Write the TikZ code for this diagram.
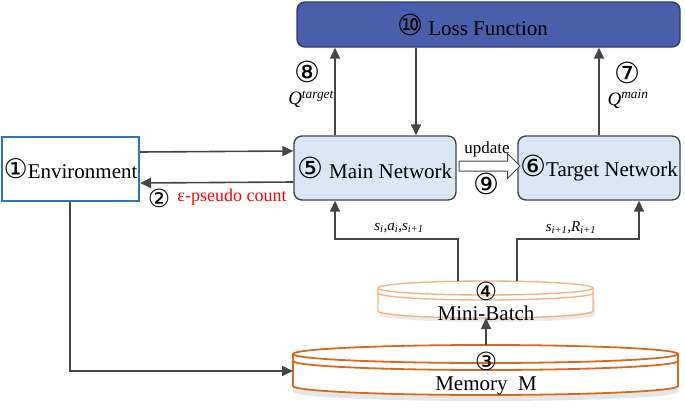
\documentclass[tikz,border=0pt]{standalone}
\usepackage{fontspec}
\setmainfont{Liberation Serif}
\newfontfamily\circfont{DejaVu Sans}
\usetikzlibrary{positioning,calc,arrows.meta,shapes.arrows}

\definecolor{lossblue}{HTML}{4A5FAB}
\definecolor{lossedge}{HTML}{2B3A78}
\definecolor{netfill}{HTML}{DCE6F2}
\definecolor{envblue}{HTML}{2E75B6}
\definecolor{memorange}{HTML}{D9691F}
\definecolor{batchorange}{HTML}{F4B183}
\definecolor{linegray}{HTML}{454545}

\newcommand{\cnum}[2][29]{{\circfont\fontsize{#1}{#1}\selectfont #2}}

\begin{document}
\begin{tikzpicture}[x=1pt,y=-1pt,>={Triangle[length=11pt,width=10pt]},line width=1.6pt,
    net node/.style={rectangle,rounded corners=8pt,draw=linegray,fill=netfill,line width=1.4pt,minimum width=162pt,minimum height=64pt,inner sep=1pt,font=\fontsize{21}{24}\selectfont},
    flow/.style={->,draw=linegray},
    small label/.style={font=\fontsize{17}{20}\selectfont},
    math label/.style={font=\fontsize{15}{18}\selectfont\itshape}]

    \useasboundingbox (0,0) rectangle (685,407);

    % boxes
    \node (loss) at (488.5,24.5) [rectangle,rounded corners=8pt,draw=lossedge,fill=lossblue,line width=1.4pt,minimum width=383pt,minimum height=45pt,inner sep=1pt,font=\fontsize{21}{24}\selectfont]{\hspace*{-32pt}\cnum{⑩} Loss Function};
    \node (main) at (375,168) [net node]{\cnum{⑤} Main Network};
    \node (target) at (599,168) [net node]{\cnum{⑥}Target Network};
    \node (env) at (70.5,169) [rectangle,draw=envblue,fill=white,line width=2pt,minimum width=137pt,minimum height=64pt,inner sep=1pt,font=\fontsize{21}{24}\selectfont]{\cnum[27]{①}Environment};

    % memory disk
    \fill[black!10] (293,375) -- (293,392) arc[start angle=180,end angle=0,x radius=192.5,y radius=9] -- (678,375);
    \filldraw[fill=white,draw=memorange,line width=1.8pt] (293,354) -- (293,386) arc[start angle=180,end angle=0,x radius=192.5,y radius=9] -- (678,354);
    \filldraw[fill=white,draw=memorange,line width=1.8pt] (485.5,354) ellipse[x radius=192.5,y radius=9];
    \draw[memorange,line width=1.8pt] (293,361) arc[start angle=180,end angle=0,x radius=192.5,y radius=9];

    % mini-batch disk
    \fill[black!8] (380,300) -- (380,315) arc[start angle=180,end angle=0,x radius=107.5,y radius=7] -- (595,300);
    \filldraw[fill=white,draw=batchorange,line width=1.4pt] (378,288) -- (378,311) arc[start angle=180,end angle=0,x radius=107.5,y radius=7] -- (593,288);
    \filldraw[fill=white,draw=batchorange,line width=1.4pt] (485.5,288) ellipse[x radius=107.5,y radius=7];
    \draw[batchorange,line width=1.4pt] (378,293) arc[start angle=180,end angle=0,x radius=107.5,y radius=7];

    \node (n4) at (486,291) {\cnum[25]{④}};
    \node (batch) at (486,313) [font=\fontsize{21}{24}\selectfont]{Mini-Batch};
    \node (n3) at (486,361) {\cnum[25]{③}};
    \node (memory) at (486,386) [font=\fontsize{21}{24}\selectfont]{Memory\ \ M};

    \coordinate (batchtop) at (486,318);
    \coordinate (memtop) at (486,345);
    \coordinate (batchl) at (458,281);
    \coordinate (batchr) at (517,281);
    \coordinate (memleft) at (293,371);

    % connectors
    \draw[flow] ([yshift=17pt]env.east) -- ([yshift=17pt]main.west);
    \draw[flow] ([yshift=-14pt]main.west) -- ([yshift=-14pt]env.east);
    \draw[flow] ([xshift=-40pt]main.north) -- ([xshift=-40pt]main.north |- loss.south);
    \draw[flow] ([xshift=41pt]main.north |- loss.south) -- ([xshift=41pt]main.north);
    \draw[flow,line width=1.8pt] (target.north) -- (target.north |- loss.south);
    \draw[flow] (batchl) -- (458,239) -| ([xshift=-40pt]main.south);
    \draw[flow] (batchr) -- (517,239) -| ([xshift=40pt]target.south);
    \draw[flow] (memtop) -- (batchtop);
    \draw[flow] (env.south -| 70,0) -- (70,371) -- (memleft);

    \node (upd) at ($(main.east)!0.5!(target.west)+(0,-2)$) [single arrow,draw=linegray,fill=white,line width=1pt,inner sep=4.5pt,minimum height=61pt,single arrow head extend=7.5pt]{};

    % labels
    \node (n2) at (159,198) {\cnum[25]{②}};
    \node (pseudo) at (232,197) [text=red,font=\fontsize{18}{20}\selectfont]{ε-pseudo count};
    \node (n8) at (307,72) {\cnum{⑧}};
    \node (qt) at (311,99) [font=\fontsize{19}{22}\selectfont\itshape]{Q\textsuperscript{target}};
    \node (n7) at (627,73) {\cnum{⑦}};
    \node (qm) at (628,99) [font=\fontsize{19}{22}\selectfont\itshape]{Q\textsuperscript{main}};
    \node (update) at (487,149) [small label]{update};
    \node (n9) at (486,184) {\cnum{⑨}};
    \node (sas) at (399,228) [math label]{s\textsubscript{i},a\textsubscript{i},s\textsubscript{i+1}};
    \node (sr) at (571,228) [math label]{s\textsubscript{i+1},R\textsubscript{i+1}};
\end{tikzpicture}
\end{document}
